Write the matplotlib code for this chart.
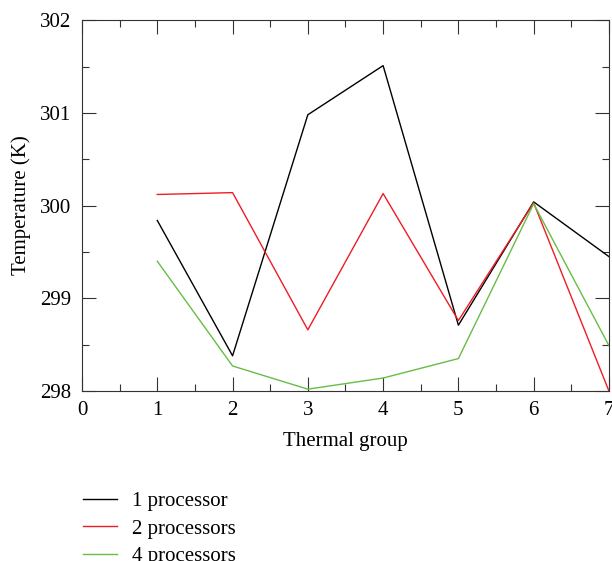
import matplotlib.pyplot as plt
from matplotlib.ticker import MultipleLocator

plt.rcParams['font.family'] = ['Liberation Serif', 'DejaVu Serif']

groups = [1, 2, 3, 4, 5, 6, 7]
temp_1proc = [299.84, 298.38, 300.98, 301.51, 298.71, 300.04, 299.45]
temp_2proc = [300.12, 300.14, 298.66, 300.13, 298.76, 300.03, 298.00]
temp_4proc = [299.40, 298.27, 298.02, 298.14, 298.35, 300.02, 298.49]

series = [
    ("1 processor", temp_1proc, "black"),
    ("2 processors", temp_2proc, "#ee1c24"),
    ("4 processors", temp_4proc, "#67bd45"),
]

FS = 15

fig = plt.figure(figsize=(6.12, 5.61), dpi=100)
ax = fig.add_axes([0.134, 0.303, 0.861, 0.661])

for label, vals, col in series:
    ax.plot(groups, vals, color=col, linewidth=1.0, label=label, clip_on=False)

ax.set_xlim(0, 7)
ax.set_ylim(298, 302)
ax.xaxis.set_major_locator(MultipleLocator(1))
ax.xaxis.set_minor_locator(MultipleLocator(0.5))
ax.yaxis.set_major_locator(MultipleLocator(1))
ax.yaxis.set_minor_locator(MultipleLocator(0.5))
ax.tick_params(which="both", direction="in", top=True, right=True,
               color="#333333", width=0.8, labelsize=FS)
ax.tick_params(axis="x", pad=7)
ax.tick_params(axis="y", pad=8)
ax.tick_params(which="major", length=10)
ax.tick_params(which="minor", length=5)
for sp in ax.spines.values():
    sp.set_color("#333333")
    sp.set_linewidth(0.8)

ax.set_xlabel("Thermal group", fontsize=FS, labelpad=9)
ax.set_ylabel("Temperature (K)", fontsize=FS, labelpad=6)

# legend sits under the plot, left-aligned with the y axis
fig.legend(loc="upper left", bbox_to_anchor=(0.135, 0.124),
           frameon=False, fontsize=FS, handlelength=1.65,
           handletextpad=0.7, labelspacing=0.38, borderaxespad=0,
           borderpad=0)

fig.savefig("out.png", dpi=100)
